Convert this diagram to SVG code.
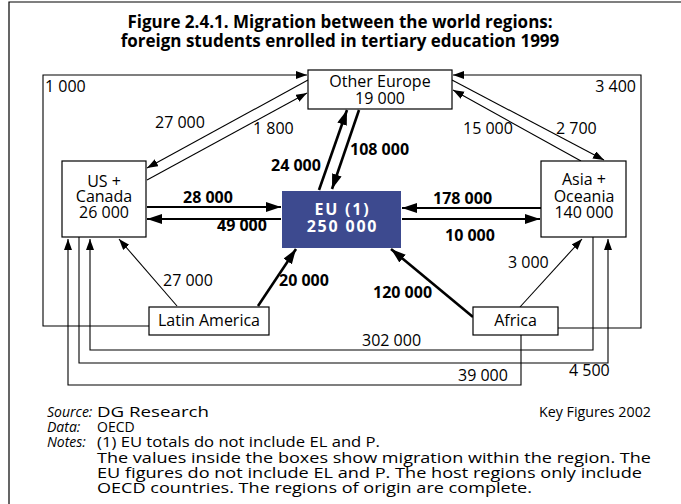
<svg xmlns="http://www.w3.org/2000/svg" width="681" height="504" viewBox="0 0 681 504">
<style>
text{font-family:"Open Sans","DejaVu Sans",sans-serif;fill:#000}
.t{font-size:17px;font-weight:bold;text-anchor:middle}
.n{font-size:16px;text-anchor:middle}
.l{font-size:16px}
.b{font-size:16px;font-weight:bold}
.f{font-size:14px}
.i{font-style:italic}
.box{fill:#fff;stroke:#000;stroke-width:1.2}
.thin{fill:none;stroke:#000;stroke-width:1.1}
.med{fill:none;stroke:#000;stroke-width:2}
.thick{fill:none;stroke:#000;stroke-width:2.6}
.eu{fill:#fff;font-size:16px;font-weight:bold;text-anchor:middle;letter-spacing:1.8px}
</style>
<defs>
<marker id="a" markerUnits="userSpaceOnUse" markerWidth="12" markerHeight="10" refX="11" refY="4" orient="auto"><path d="M0,0 L11,4 L0,8 z" fill="#000"/></marker>
<marker id="A" markerUnits="userSpaceOnUse" markerWidth="16" markerHeight="12" refX="15" refY="5" orient="auto"><path d="M0,0 L15,5 L0,10 z" fill="#000"/></marker>
</defs>
<rect width="681" height="504" fill="#fff"/>
<path d="M9,504 V2 H681" fill="none" stroke="#000" stroke-width="1.2"/>
<text class="t" x="340" y="28">Figure 2.4.1. Migration between the world regions:</text>
<text class="t" x="340" y="47">foreign students enrolled in tertiary education 1999</text>

<g id="connectors">
<path class="thin" d="M149,326 H43 V75 H307" marker-end="url(#a)"/>
<path class="thin" d="M558,328 H641 V75 H453" marker-end="url(#a)"/>
<path class="thin" d="M308,80 L147,168" marker-end="url(#a)"/>
<path class="thin" d="M147,180 L307,93" marker-end="url(#a)"/>
<path class="thin" d="M452,80 L604,160" marker-end="url(#a)"/>
<path class="thin" d="M581,161 L453,90" marker-end="url(#a)"/>
<path class="thick" d="M319,190 L347,110" marker-end="url(#A)"/>
<path class="thick" d="M359,110 L332,189" marker-end="url(#A)"/>
<path class="med" d="M147,207 H281" marker-end="url(#A)"/>
<path class="med" d="M281,219 H147" marker-end="url(#A)"/>
<path class="med" d="M541,208 H402" marker-end="url(#A)"/>
<path class="med" d="M402,219 H540" marker-end="url(#A)"/>
<path class="thick" d="M258,306 L296,249" marker-end="url(#A)"/>
<path class="thick" d="M473,317 L391,249" marker-end="url(#A)"/>
<path class="thin" d="M177,306 L119,239" marker-end="url(#a)"/>
<path class="thin" d="M520,307 L582,239" marker-end="url(#a)"/>
<path class="thin" d="M593,237 V350 H90 V239" marker-end="url(#a)"/>
<path class="thin" d="M79,237 V363 H608 V239" marker-end="url(#a)"/>
<path class="thin" d="M521,335 V385 H68 V239" marker-end="url(#a)"/>
</g>

<g id="labels">
<text class="l" x="45" y="92">1 000</text>
<text class="l" x="636" y="92" text-anchor="end">3 400</text>
<text class="l" x="155" y="128">27 000</text>
<text class="l" x="253" y="134">1 800</text>
<text class="l" x="463" y="134">15 000</text>
<text class="l" x="556" y="134">2 700</text>
<text class="b" x="350" y="155">108 000</text>
<text class="b" x="271" y="171">24 000</text>
<text class="b" x="183" y="203">28 000</text>
<text class="b" x="217" y="231">49 000</text>
<text class="b" x="433" y="204">178 000</text>
<text class="b" x="445" y="241">10 000</text>
<text class="l" x="508" y="268">3 000</text>
<text class="l" x="163" y="286">27 000</text>
<text class="b" x="279" y="286">20 000</text>
<text class="b" x="373" y="298">120 000</text>
<text class="l" x="362" y="346">302 000</text>
<text class="l" x="569" y="376">4 500</text>
<text class="l" x="458" y="381">39 000</text>
</g>

<g id="other-europe">
<rect class="box" x="308" y="70" width="144" height="39"/>
<text class="n" x="380" y="87">Other Europe</text>
<text class="n" x="380" y="104">19 000</text>
</g>
<g id="us-canada">
<rect class="box" x="62" y="161" width="84" height="76"/>
<text class="n" x="104" y="187">US +</text>
<text class="n" x="104" y="202">Canada</text>
<text class="n" x="104" y="218">26 000</text>
</g>
<g id="asia-oceania">
<rect class="box" x="541" y="161" width="85" height="76"/>
<text class="n" x="584" y="185">Asia +</text>
<text class="n" x="584" y="202">Oceania</text>
<text class="n" x="584" y="218">140 000</text>
</g>
<g id="eu">
<rect x="282" y="191" width="119" height="57" fill="#3d4a8f"/>
<text class="eu" x="342.5" y="215">EU (1)</text>
<text class="eu" x="342.5" y="232">250 000</text>
</g>
<g id="latin-america">
<rect class="box" x="149" y="307" width="120" height="28"/>
<text class="n" x="209" y="326">Latin America</text>
</g>
<g id="africa">
<rect class="box" x="473" y="307" width="85" height="28"/>
<text class="n" x="515.5" y="326">Africa</text>
</g>

<g id="notes">
<text class="f i" x="47" y="417">Source:</text>
<text class="f" x="97" y="417" textLength="112" lengthAdjust="spacingAndGlyphs">DG Research</text>
<text class="f" x="651" y="417" text-anchor="end" textLength="112" lengthAdjust="spacingAndGlyphs">Key Figures 2002</text>
<text class="f i" x="47" y="432">Data:</text>
<text class="f" x="97" y="432">OECD</text>
<text class="f i" x="47" y="447">Notes:</text>
<text class="f" x="97" y="447" textLength="283" lengthAdjust="spacingAndGlyphs">(1) EU totals do not include EL and P.</text>
<text class="f" x="97" y="463" textLength="554" lengthAdjust="spacingAndGlyphs">The values inside the boxes show migration within the region. The</text>
<text class="f" x="97" y="478" textLength="545" lengthAdjust="spacingAndGlyphs">EU figures do not include EL and P. The host regions only include</text>
<text class="f" x="97" y="493" textLength="435" lengthAdjust="spacingAndGlyphs">OECD countries. The regions of origin are complete.</text>
</g>
</svg>
